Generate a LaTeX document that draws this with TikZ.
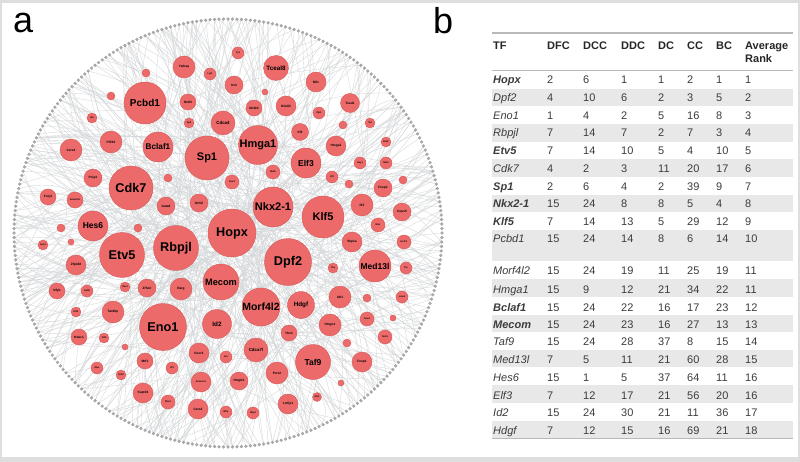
\documentclass[tikz,border=0pt]{standalone}
\usepackage{fontspec}
\setmainfont{Liberation Sans}
\usetikzlibrary{calc}

\definecolor{nodered}{RGB}{237,106,106}
\definecolor{nodeline}{RGB}{214,88,88}
\definecolor{txtgray}{RGB}{60,60,60}
\definecolor{rowgray}{RGB}{232,232,232}
\definecolor{framegray}{RGB}{222,222,222}
\definecolor{edgegray}{RGB}{212,215,217}

\begin{document}
\begin{tikzpicture}[
  x=1pt, y=-1pt,
  gene/.style={circle, fill=nodered, draw=nodeline, line width=0.4pt,
    inner sep=0pt, text=black, minimum size=#1},
  fhub/.style={font=\bfseries\fontsize{12.7}{14}\selectfont},
  fbig/.style={font=\bfseries\fontsize{11}{12}\selectfont},
  fmid/.style={font=\bfseries\fontsize{8.5}{9}\selectfont},
  fsm/.style={font=\bfseries\fontsize{6.3}{7}\selectfont},
  fxs/.style={font=\bfseries\fontsize{4.4}{5}\selectfont},
  ftiny/.style={font=\bfseries\fontsize{3.2}{4}\selectfont},
  fmicro/.style={font=\bfseries\fontsize{2.4}{3}\selectfont},
  ringdot/.style={circle, fill=gray!65, draw=gray!80, line width=0.2pt,
    inner sep=0pt, minimum size=3pt},
  edge/.style={edgegray, line width=0.35pt},
  panel/.style={font=\fontsize{36}{36}\selectfont, anchor=base west, inner sep=0pt},
  cell/.style={anchor=base west, inner sep=0pt, text=txtgray,
    font=\fontsize{11}{13}\selectfont},
  head/.style={cell, text=black!85, font=\bfseries\fontsize{11}{13}\selectfont},
]

% === frame ===
\useasboundingbox (0,0) rectangle (800,462);
\fill[framegray] (0,0) rectangle (800,462);
\fill[white] (1.5,3.5) rectangle (797.5,456.5);

\node[panel] (lbla) at (13,33) {a};
\node[panel] (lblb) at (433,34) {b};

% === network (panel a) ===
\coordinate (ctr) at (228,233);
\foreach \k in {0,...,299}
  \coordinate (r\k) at ({228+214*cos(\k*1.2)},{233+214*sin(\k*1.2)});

% edges between ring nodes
\pgfmathsetseed{17}
\foreach \e in {1,...,340}{
  \pgfmathrandominteger{\ea}{0}{299}
  \pgfmathrandominteger{\eb}{0}{299}
  \pgfmathsetmacro{\ux}{228+150*rand}
  \pgfmathsetmacro{\uy}{233+150*rand}
  \pgfmathsetmacro{\vx}{228+150*rand}
  \pgfmathsetmacro{\vy}{233+150*rand}
  \draw[edge] (r\ea) .. controls (\ux,\uy) and (\vx,\vy) .. (r\eb);
}

\foreach \k in {0,...,299}
  \node[ringdot] (d\k) at (r\k) {};

% hubs
\node[gene=48, fhub] (hopx) at (232,233) {Hopx};
\node[gene=47, fhub] (dpf2) at (288,262) {Dpf2};
\node[gene=47, fhub] (eno1) at (163,327) {Eno1};
\node[gene=45, fhub] (rbpjl) at (176,248) {Rbpjl};
\node[gene=45, fhub] (etv5) at (122,255) {Etv5};
\node[gene=44, fhub] (cdk7) at (131,188) {Cdk7};
\node[gene=44, fbig] (sp1) at (207,158) {Sp1};
\node[gene=40, fbig] (nkx21) at (273,207) {Nkx2-1};
\node[gene=42, fbig] (klf5) at (323,217) {Klf5};
\node[gene=39, fbig] (hmga1) at (258,145) {Hmga1};
\node[gene=42, font=\bfseries\fontsize{10}{11}\selectfont] (pcbd1) at (145,103) {Pcbd1};
\node[gene=38, font=\bfseries\fontsize{10.5}{11}\selectfont] (morf4l2) at (261,307) {Morf4l2};
\node[gene=36, font=\bfseries\fontsize{9.2}{10}\selectfont] (mecom) at (221,282) {Mecom};
\node[gene=30, font=\bfseries\fontsize{8.2}{9}\selectfont] (bclaf1) at (158,147) {Bclaf1};

% medium
\node[gene=32, fmid] (med13l) at (375,266) {Med13l};
\node[gene=35, fmid] (taf9) at (313,362) {Taf9};
\node[gene=30, fmid] (elf3) at (306,163) {Elf3};
\node[gene=30, fmid] (hes6) at (93,226) {Hes6};
\node[gene=27, fsm] (hdgf) at (301,305) {Hdgf};
\node[gene=29, fsm] (id2) at (217,324) {Id2};
\node[gene=25, fsm] (tceal8) at (276,68) {Tceal8};
\node[gene=24, fxs] (cdca4) at (223,123) {Cdca4};
\node[gene=24, fxs] (cdca7l) at (256,350) {Cdca7l};

% small
\node[gene=22, ftiny] (ywhaq) at (184,67) {Ywhaq};
\node[gene=18, ftiny] (irx3) at (234,85) {Irx3};
\node[gene=20, ftiny] (nfix) at (316,82) {Nfix};
\node[gene=16, ftiny] (nr2f2) at (188,102) {Nr2f2};
\node[gene=16, ftiny] (mef2d) at (254,108) {Mef2d};
\node[gene=20, ftiny] (nfe2l2) at (286,106) {Nfe2l2};
\node[gene=19, ftiny] (tead1) at (350,103) {Tead1};
\node[gene=22, ftiny] (phf10) at (111,142) {Phf10};
\node[gene=22, ftiny] (cers4) at (71,150) {Cers4};
\node[gene=17, ftiny] (irf9) at (300,132) {Irf9};
\node[gene=20, ftiny] (hmga2) at (336,146) {Hmga2};
\node[gene=18, ftiny] (psip1) at (93,178) {Psip1};
\node[gene=16, ftiny] (foxj1) at (48,197) {Foxj1};
\node[gene=16, fmicro] (smarcb1) at (75,200) {Smarcb1};
\node[gene=18, ftiny] (gata6) at (166,206) {Gata6};
\node[gene=18, ftiny] (grhl2) at (199,203) {Grhl2};
\node[gene=22, ftiny] (ilf2) at (362,205) {Ilf2};
\node[gene=18, ftiny] (cops5) at (402,212) {Cops5};
\node[gene=18, ftiny] (foxp2) at (383,188) {Foxp2};
\node[gene=20, ftiny] (skp1a) at (352,242) {Skp1a};
\node[gene=20, ftiny] (zfp428) at (76,265) {Zfp428};
\node[gene=18, ftiny] (zfhx3) at (147,288) {Zfhx3};
\node[gene=22, ftiny] (rarg) at (181,289) {Rarg};
\node[gene=22, ftiny] (atf1) at (340,297) {Atf1};
\node[gene=22, ftiny] (tardbp) at (113,312) {Tardbp};
\node[gene=22, ftiny] (hmgn1) at (330,325) {Hmgn1};
\node[gene=20, ftiny] (ncor1) at (199,353) {Ncor1};
\node[gene=18, ftiny] (hmgb3) at (239,381) {Hmgb3};
\node[gene=22, ftiny] (prrx2) at (277,373) {Prrx2};
\node[gene=20, fmicro] (smarcc1) at (201,382) {Smarcc1};
\node[gene=20, ftiny] (foxp1) at (362,362) {Foxp1};
\node[gene=20, ftiny] (supt16) at (143,393) {Supt16};
\node[gene=20, ftiny] (cers2) at (198,409) {Cers2};
\node[gene=20, ftiny] (lrrfip1) at (288,404) {Lrrfip1};
\node[gene=16, ftiny] (ybx1) at (289,333) {Ybx1};
\node[gene=16, ftiny] (mtf1) at (145,361) {Mtf1};
\node[gene=16, ftiny] (nfyb) at (57,291) {Nfyb};
\node[gene=16, ftiny] (hdac1) at (79,337) {Hdac1};
\node[gene=14, fmicro] (pbx3) at (168,402) {Pbx3};
\node[gene=14, fmicro] (sox4) at (367,319) {Sox4};
\node[gene=14, fmicro] (sub1) at (385,337) {Sub1};
\node[gene=14, fmicro] (mafk) at (273,172) {Mafk};
\node[gene=14, fmicro] (sox9) at (232,182) {Sox9};
\node[gene=14, fmicro] (nmi) at (378,225) {Nmi};
\node[gene=14, fmicro] (hcfc1) at (404,242) {Hcfc1};

% tiny
\node[gene=12, fmicro] (yy1) at (238,53) {Yy1};
\node[gene=12, fmicro] (lyl1) at (210,74) {Lyl1};
\node[gene=10, fmicro] (sp3) at (189,123) {Sp3};
\node[gene=12, fmicro] (zfp1) at (319,113) {Zfp1};
\node[gene=10, fmicro] (hlx) at (92,118) {Hlx};
\node[gene=10, fmicro] (tef) at (370,123) {Tef};
\node[gene=10, fmicro] (ets2) at (386,142) {Ets2};
\node[gene=12, fmicro] (irf3) at (332,177) {Irf3};
\node[gene=12, fmicro] (hey1) at (360,163) {Hey1};
\node[gene=12, fmicro] (nfe2) at (386,163) {Nfe2};
\node[gene=10, fmicro] (sox2) at (43,245) {Sox2};
\node[gene=12, fmicro] (tsc) at (406,268) {Tsc};
\node[gene=10, fmicro] (tbx) at (333,268) {Tbx};
\node[gene=12, fmicro] (sall4) at (87,291) {Sall4};
\node[gene=10, fmicro] (rest) at (125,287) {Rest};
\node[gene=12, fmicro] (lmo4) at (402,297) {Lmo4};
\node[gene=10, fmicro] (klf2) at (76,312) {Klf2};
\node[gene=10, fmicro] (tcf4) at (104,338) {Tcf4};
\node[gene=12, fmicro] (arx) at (226,357) {Arx};
\node[gene=12, fmicro] (irf1) at (172,368) {Irf1};
\node[gene=12, fmicro] (max) at (97,368) {Max};
\node[gene=10, fmicro] (tp53) at (121,375) {Tp53};
\node[gene=12, fmicro] (nfia) at (226,412) {Nfia};
\node[gene=12, fmicro] (hbp1) at (253,413) {Hbp1};
\node[gene=9, fmicro] (gli3) at (317,397) {Gli3};

% dots without label
\foreach \px/\py/\pd [count=\j] in {146/73/8, 265/92/6, 111/96/8, 343/125/8,
    168/178/8, 349/184/8, 403/180/8, 61/228/8, 138/228/8, 71/242/6,
    367/298/8, 393/318/6, 347/343/8, 125/347/6, 341/383/6}
  \node[gene=\pd] (dot\j) at (\px,\py) {};

% === table (panel b) ===
\foreach \ya/\yb in {89/106.5, 124/142, 159.5/177, 195/212.5, 230/261,
    279/297, 315/332, 350/367, 385/403, 421/438}
  \fill[rowgray] (492,\ya) rectangle (793,\yb);

\draw[gray!55, line width=1.2pt] (492,33) -- (793,33);
\draw[gray!55, line width=1.6pt] (492,70.5) -- (793,70.5);
\draw[gray!55, line width=1.2pt] (492,438.5) -- (793,438.5);

\node[head] (hTF) at (493,50) {TF};
\node[head] (hDFC) at (547,50) {DFC};
\node[head] (hDCC) at (583,50) {DCC};
\node[head] (hDDC) at (621,50) {DDC};
\node[head] (hDC) at (658,50) {DC};
\node[head] (hCC) at (687,50) {CC};
\node[head] (hBC) at (716,50) {BC};
\node[head] (hAvg) at (745,50) {Average};
\node[head] (hRank) at (745,63) {Rank};

\foreach \nm/\w/\a/\b/\c/\d/\e/\f/\g/\y [count=\i] in {
    Hopx/b/2/6/1/1/2/1/1/80, Dpf2/m/4/10/6/2/3/5/2/98,
    Eno1/m/1/4/2/5/16/8/3/116, Rbpjl/m/7/14/7/2/7/3/4/133,
    Etv5/b/7/14/10/5/4/10/5/151, Cdk7/m/4/2/3/11/20/17/6/169,
    Sp1/b/2/6/4/2/39/9/7/187, Nkx2-1/b/15/24/8/8/5/4/8/204,
    Klf5/b/7/14/13/5/29/12/9/222, Pcbd1/m/15/24/14/8/6/14/10/239,
    Morf4l2/m/15/24/19/11/25/19/11/271, Hmga1/m/15/9/12/21/34/22/11/289,
    Bclaf1/b/15/24/22/16/17/23/12/307, Mecom/b/15/24/23/16/27/13/13/324,
    Taf9/m/15/24/28/37/8/15/14/341, Med13l/m/7/5/11/21/60/28/15/359,
    Hes6/m/15/1/5/37/64/11/16/377, Elf3/m/7/12/17/21/56/20/16/395,
    Id2/m/15/24/30/21/11/36/17/412, Hdgf/m/7/12/15/16/69/21/18/430}{
  \node[cell] (tf\i) at (493,\y+4) {\fontseries{\w}\itshape\selectfont \nm};
  \node[cell] (dfc\i) at (547,\y+4) {\a};
  \node[cell] (dcc\i) at (583,\y+4) {\b};
  \node[cell] (ddc\i) at (621,\y+4) {\c};
  \node[cell] (dc\i) at (658,\y+4) {\d};
  \node[cell] (cc\i) at (687,\y+4) {\e};
  \node[cell] (bc\i) at (716,\y+4) {\f};
  \node[cell] (avg\i) at (745,\y+4) {\g};
}

\end{tikzpicture}
\end{document}
